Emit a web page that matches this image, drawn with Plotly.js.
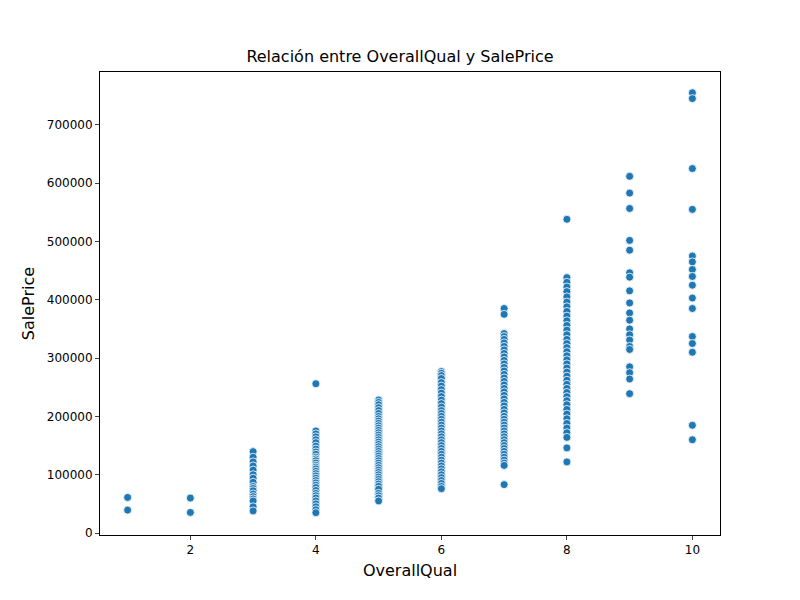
<!DOCTYPE html>
<html>
<head>
<meta charset="utf-8">
<script src="https://cdn.plot.ly/plotly-3.0.1.min.js"></script>
<style>body{margin:0;background:#fff;}</style>
</head>
<body>
<div id="chart" style="width:800px;height:600px;"></div>
<script>
// SalePrice values, grouped by OverallQual
var qual1 = [61000, 39300];
var qual2 = [60000, 35311];
var qual3 = [139600, 130000, 122000, 115000, 108000, 100000, 94000, 87000, 80000, 76500, 72500, 67000, 62500, 58500, 55000, 45000, 37900];
var qual4 = [256000, 175000, 170000, 165000, 160000, 155000, 149000, 144000, 139000, 135000, 130000, 127000, 124000, 120000, 116000, 113000, 110000, 106000, 102000, 98000, 94000, 90000, 86000, 82000, 78000, 73000, 68000, 64000, 60000, 55000, 50000, 45000, 40000, 34900];
var qual5 = [228000, 224000, 220000, 215000, 210000, 205000, 200000, 196000, 192000, 188000, 184000, 180000, 176000, 172000, 168000, 164000, 160000, 156000, 152000, 148000, 144000, 140000, 136000, 132000, 128000, 124000, 120000, 116000, 112000, 108000, 104000, 100000, 96000, 92000, 88000, 84000, 80000, 75000, 68000, 64000, 60000, 55000];
var qual6 = [277000, 274000, 270000, 265000, 258000, 252000, 246000, 240000, 234000, 228000, 222000, 216000, 210000, 205000, 200000, 195000, 190000, 185000, 180000, 175000, 170000, 165000, 160000, 155000, 150000, 145000, 140000, 135000, 130000, 125000, 120000, 115000, 110000, 105000, 100000, 95000, 90000, 85000, 80000, 76000];
var qual7 = [385000, 375000, 342000, 337000, 332000, 326000, 320000, 314000, 308000, 302000, 296000, 290000, 284000, 278000, 272000, 266000, 260000, 254000, 248000, 242000, 236000, 230000, 224000, 218000, 212000, 206000, 200000, 195000, 190000, 185000, 180000, 175000, 170000, 165000, 160000, 155000, 150000, 145000, 140000, 135000, 130000, 125000, 120000, 116000, 83000];
var qual8 = [538000, 438000, 430000, 422000, 414000, 405000, 396000, 388000, 380000, 372000, 364000, 356000, 348000, 340000, 332000, 325000, 318000, 311000, 304000, 297000, 290000, 283000, 276000, 269000, 262000, 255000, 248000, 241000, 234000, 227000, 220000, 212000, 204000, 196000, 188000, 180000, 172000, 164000, 146000, 122000];
var qual9 = [611657, 582933, 556581, 501837, 485000, 446261, 438780, 415298, 394617, 377426, 365000, 350000, 340000, 331000, 320000, 314813, 285000, 275000, 264132, 239000];
var qual10 = [755000, 745000, 625000, 555000, 475000, 465000, 451950, 440000, 425000, 403000, 385000, 337000, 325000, 310000, 184750, 160000];

var groups = [qual1, qual2, qual3, qual4, qual5, qual6, qual7, qual8, qual9, qual10];
var xs = [], ys = [];
groups.forEach(function(g, i) {
    g.forEach(function(v) { xs.push(i + 1); ys.push(v); });
});

var data = [{
    x: xs,
    y: ys,
    type: 'scatter',
    mode: 'markers',
    showlegend: false,
    marker: {
        color: '#1f77b4',
        size: 8,
        line: {color: 'white', width: 0.8}
    }
}];

var layout = {
    width: 800,
    height: 600,
    font: {family: 'DejaVu Sans', size: 13, color: 'black'},
    paper_bgcolor: 'white',
    plot_bgcolor: 'white',
    margin: {l: 100, r: 80, t: 72, b: 65},
    title: {text: 'Relación entre OverallQual y SalePrice', x: 0.5, xanchor: 'center', y: 0.915, font: {size: 16}},
    xaxis: {
        title: {text: 'OverallQual', standoff: 8},
        range: [0.56, 10.44],
        tickvals: [2, 4, 6, 8, 10],
        showgrid: false,
        zeroline: false,
        showline: true,
        mirror: true,
        linecolor: 'black',
        linewidth: 1,
        ticks: 'outside',
        ticklen: 4,
        tickfont: {size: 12}
    },
    yaxis: {
        title: {text: 'SalePrice', standoff: 8},
        range: [-3400, 790600],
        tickvals: [0, 100000, 200000, 300000, 400000, 500000, 600000, 700000],
        ticktext: ['0', '100000', '200000', '300000', '400000', '500000', '600000', '700000'],
        showgrid: false,
        zeroline: false,
        showline: true,
        mirror: true,
        linecolor: 'black',
        linewidth: 1,
        ticks: 'outside',
        ticklen: 4,
        tickfont: {size: 12}
    }
};

Plotly.newPlot('chart', data, layout, {displayModeBar: false});
</script>
</body>
</html>
